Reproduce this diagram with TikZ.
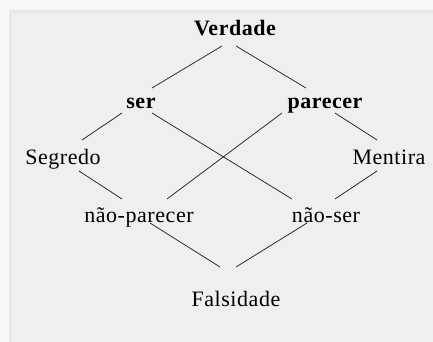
\documentclass[tikz,border=0pt]{standalone}
\usepackage{fontspec}
\setmainfont{Liberation Serif}[LetterSpace=2.5]
\usepackage{tikz}
\usetikzlibrary{positioning}
\definecolor{fundo}{HTML}{EFEFEF}
\definecolor{margem}{HTML}{F7F7F7}
\definecolor{friso}{HTML}{E7E7E7}
\definecolor{traco}{HTML}{222222}
\tikzset{
  termo/.style={anchor=base,inner sep=0pt,font=\fontsize{22}{25}\selectfont},
  termob/.style={termo,font=\fontsize{22}{25}\selectfont\bfseries},
  ligacao/.style={draw=traco,line width=0.75pt},
}
\begin{document}
\begin{tikzpicture}[x=1pt,y=-1pt]
  \useasboundingbox (0,0) rectangle (433,342);
  \fill[margem] (0,0) rectangle (433,342);
  \fill[friso] (9,10) rectangle (433,342);
  \fill[fundo] (12,13) rectangle (433,342);
  \node[termob] (verdade) at (235,36) {Verdade};
  \node[termob] (ser) at (141,108) {ser};
  \node[termob] (parecer) at (325,108) {parecer};
  \node[termo] (segredo) at (63,164) {Segredo};
  \node[termo] (mentira) at (389,164) {Mentira};
  \node[termo] (naoparecer) at (139,222) {não-parecer};
  \node[termo] (naoser) at (326,222) {não-ser};
  \node[termo] (falsidade) at (236,306) {Falsidade};
  \draw[ligacao] ([shift={(-13,10)}]verdade.base) -- ([shift={(11,-20)}]ser.base);
  \draw[ligacao] ([shift={(1,10)}]verdade.base) -- ([shift={(-19,-20)}]parecer.base);
  \draw[ligacao] ([shift={(-19,5)}]ser.base) -- ([shift={(19,-24)}]segredo.base);
  \draw[ligacao] ([shift={(11,5)}]ser.base) -- ([shift={(-34,-23)}]naoser.base);
  \draw[ligacao] ([shift={(-43,5)}]parecer.base) -- ([shift={(28,-23)}]naoparecer.base);
  \draw[ligacao] ([shift={(10,5)}]parecer.base) -- ([shift={(-12,-24)}]mentira.base);
  \draw[ligacao] ([shift={(16,7)}]segredo.base) -- ([shift={(-17,-23)}]naoparecer.base);
  \draw[ligacao] ([shift={(-12,7)}]mentira.base) -- ([shift={(9,-23)}]naoser.base);
  \draw[ligacao] ([shift={(11,1)}]naoparecer.base) -- ([shift={(-16,-39)}]falsidade.base);
  \draw[ligacao] ([shift={(-19,1)}]naoser.base) -- ([shift={(0,-39)}]falsidade.base);
\end{tikzpicture}
\end{document}
